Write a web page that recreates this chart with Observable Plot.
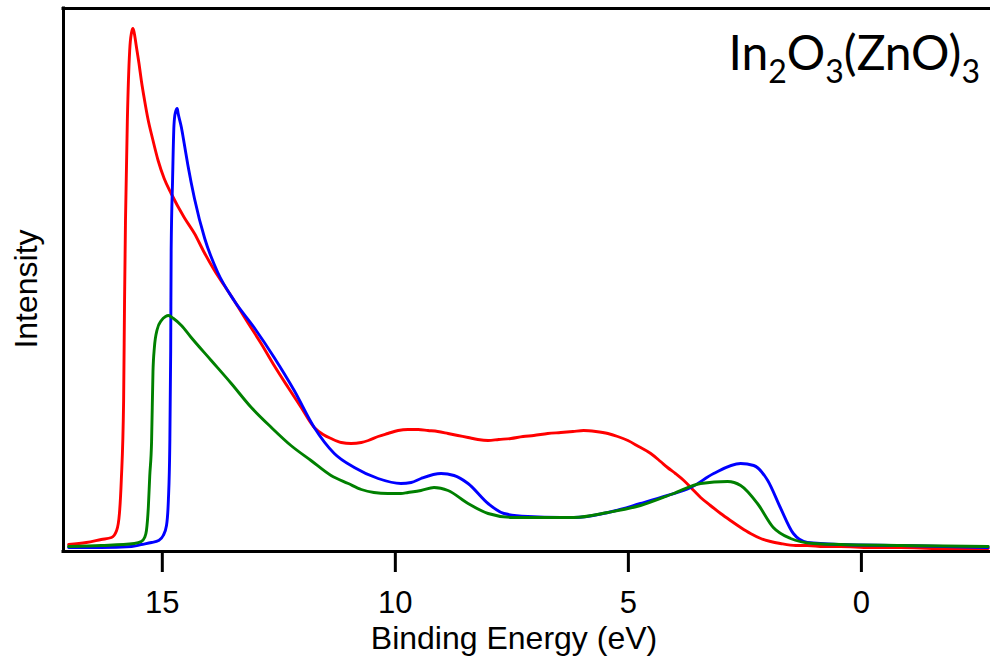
<!DOCTYPE html>
<html>
<head>
<meta charset="utf-8">
<script src="https://cdn.jsdelivr.net/npm/d3@7"></script>
<script src="https://cdn.jsdelivr.net/npm/@observablehq/plot@0.6"></script>
<style>
  html, body { margin: 0; padding: 0; background: #fff; }
  #chart { width: 990px; height: 656px; overflow: hidden; }
  svg { display: block; }
</style>
</head>
<body>
<div id="chart"></div>
<script>
// ---- Data (binding energy in eV, intensity in arbitrary units) ----
const redEnergy = [17.01,16.63,16.31,16.09,15.98,15.92,15.88,15.83,15.81,15.79,15.75,15.70,15.66,15.63,15.60,15.56,15.50,15.45,15.38,15.31,15.21,15.09,14.96,14.81,14.53,14.31,14.10,13.88,13.67,13.46,13.18,12.88,12.60,12.30,12.02,11.74,11.55,11.38,11.16,10.95,10.73,10.58,10.37,10.16,9.94,9.73,9.51,9.30,9.09,8.87,8.66,8.44,8.23,8.01,7.78,7.52,7.26,7.03,6.73,6.45,6.19,5.96,5.70,5.44,5.23,5.01,4.78,4.52,4.31,4.16,3.99,3.81,3.62,3.45,3.24,3.02,2.81,2.59,2.38,2.16,1.95,1.74,1.41,1.16,0.81,0.45,-0.19,-0.84,-1.69,-2.72];
const redIntensity = [7,9,12,14,21,38,71,151,251,331,431,501,519,523,518,506,488,471,451,433,413,391,373,358,334,318,299,281,266,251,230,208,186,164,144,124,117,113,109,108,109,111,115,118,121,122,122,121,120,118,116,114,112,111,112,113,115,116,118,119,120,121,120,118,115,111,105,98,90,84,78,71,62,54,46,38,31,24,18,13,10,8,6,6,5,5,4,4,3,3];

const blueEnergy = [17.01,16.31,15.66,15.45,15.23,15.08,14.98,14.91,14.87,14.84,14.82,14.81,14.78,14.75,14.72,14.68,14.66,14.59,14.53,14.45,14.31,14.09,13.81,13.46,13.03,12.60,12.17,11.74,11.31,10.88,10.37,9.88,9.66,9.45,9.02,8.74,8.44,8.01,7.67,7.16,6.45,6.17,5.44,4.74,4.16,3.66,3.17,2.59,2.31,2.01,1.74,1.46,1.16,0.45,-0.84,-2.72];
const blueIntensity = [4,4,5,7,9,11,16,26,51,104,201,301,371,426,439,443,438,424,408,386,353,313,279,251,224,194,161,124,98,84,73,68,69,73,78,76,68,48,38,35,34,34,39,48,56,64,78,88,86,71,44,18,9,7,6,4];

const greenEnergy = [17.01,16.31,15.60,15.45,15.38,15.34,15.30,15.27,15.23,15.20,15.17,15.11,15.02,14.93,14.87,14.76,14.59,14.38,13.95,13.52,13.09,12.66,12.24,11.81,11.38,11.01,10.73,10.46,10.16,9.88,9.73,9.45,9.17,8.87,8.44,8.01,7.46,6.88,6.17,5.44,4.74,4.03,3.45,2.87,2.59,2.23,1.89,1.52,1.03,0.45,-0.84,-2.72];
const greenIntensity = [5,6,8,10,14,21,44,75,110,180,204,222,231,235,236,233,226,214,191,168,144,124,106,91,76,68,62,59,58,58,59,61,64,61,48,38,34,34,34,39,46,58,68,70,66,48,24,13,8,7,6,5];

const seriesNames = ["red", "blue", "green"];
const seriesColors = ["#ff1010", "#1648ff", "#1e921e"];
const xTicks = [15, 10, 5, 0];
const xDomain = [17.12, -2.77];
const yDomain = [0, 543];
const xLabel = "Binding Energy (eV)";
const yLabel = "Intensity";

// ---- Build table ----
function toRows(name, es, is) { return es.map((e, i) => ({series: name, energy: e, intensity: is[i]})); }
const rows = [
  ...toRows("red", redEnergy, redIntensity),
  ...toRows("blue", blueEnergy, blueIntensity),
  ...toRows("green", greenEnergy, greenIntensity)
];

const font = "'Liberation Sans', Arial, sans-serif";

const chart = Plot.plot({
  width: 990,
  height: 656,
  marginLeft: 63,
  marginRight: 0,
  marginTop: 8,
  marginBottom: 105,
  style: {fontFamily: font, fontSize: "31px", color: "#000", background: "#fff", overflow: "visible"},
  x: {domain: xDomain, range: [63, 990]},
  y: {domain: yDomain, axis: null},
  color: {domain: seriesNames, range: seriesColors},
  marks: [
    Plot.axisX({ticks: xTicks, tickSize: 21, tickPadding: 18, tickFormat: d => String(d), strokeWidth: 3, label: null, fontSize: 31}),
    ...seriesNames.map(s => Plot.line(rows.filter(r => r.series === s), {
      x: "energy", y: "intensity", stroke: "series", strokeWidth: 2.9, curve: "monotone-x"
    })),
    Plot.ruleY([yDomain[0]], {stroke: "#000", strokeWidth: 3, strokeLinecap: "square"}),
    Plot.ruleY([yDomain[1]], {stroke: "#000", strokeWidth: 3, strokeLinecap: "square"}),
    Plot.ruleX([xDomain[0]], {stroke: "#000", strokeWidth: 3, strokeLinecap: "square"}),
    Plot.text([xLabel], {frameAnchor: "bottom", textAnchor: "middle", dx: -13, dy: 97, lineAnchor: "bottom", fontSize: 32, fill: "#000"}),
    Plot.text([yLabel], {frameAnchor: "left", textAnchor: "middle", rotate: -90, dx: -27, dy: 9, lineAnchor: "bottom", fontSize: 32, fill: "#000"})
  ]
});

document.getElementById("chart").appendChild(chart);

// Formula title with subscripts as real SVG text
const svg = d3.select(chart);
const t = svg.append("text")
  .attr("x", 980).attr("y", 70)
  .attr("text-anchor", "end")
  .attr("font-family", "Lato, 'Open Sans', sans-serif")
  .attr("font-size", 48)
  .attr("fill", "#000");
const parts = [["In", false], ["2", true], ["O", false], ["3", true], ["(ZnO)", false], ["3", true]];
parts.forEach(([txt, sub]) => {
  const ts = t.append("tspan").text(txt);
  if (sub) ts.attr("font-size", 32).attr("dy", 13);
  else ts.attr("dy", txt === "In" ? 0 : -13);
});
</script>
</body>
</html>
